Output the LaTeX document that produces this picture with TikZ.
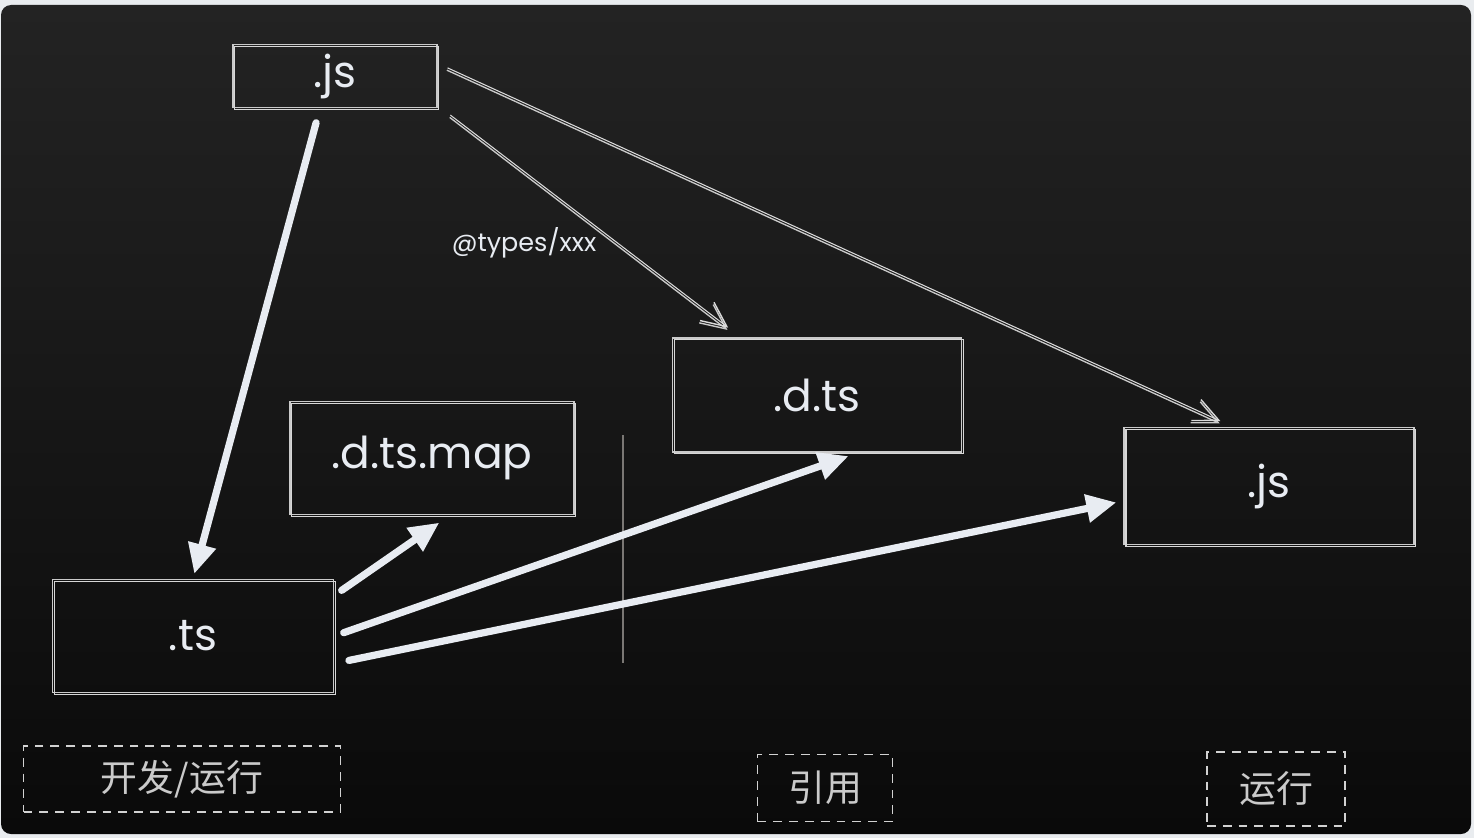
\documentclass[tikz,border=0pt]{standalone}
\usepackage{fontspec}
\setmainfont{Poppins}
\newfontfamily\cjk{Noto Sans CJK SC}
\usepackage{tikz}
\usetikzlibrary{arrows.meta,calc,positioning}
\definecolor{pagebg}{HTML}{E9ECEF}
\definecolor{boardtop}{HTML}{232323}
\definecolor{boardbot}{HTML}{0A0A0A}
\definecolor{edgegray}{HTML}{CACACA}
\definecolor{inkwhite}{HTML}{E8ECF2}
\definecolor{divider}{HTML}{7A7774}
\tikzset{
  filebox/.style   = {draw=edgegray, line width=0.9pt, text=inkwhite,
                      font=\fontsize{25}{28}\selectfont, inner sep=0pt,
                      postaction={draw=edgegray!75, line width=0.6pt,
                                  transform canvas={shift={(1.1pt,-0.9pt)}}}},
  stagebox/.style  = {draw=edgegray!85, line width=0.9pt, dash pattern=on 5pt off 4pt,
                      text=edgegray, font=\cjk\fontsize{21}{24}\selectfont, inner sep=0pt},
  bigarrow/.style  = {draw=inkwhite, line width=4.1pt, line cap=round,
                      -{Triangle[length=6mm,width=5.4mm]}},
  thinarrow/.style = {draw=edgegray, line width=0.75pt,
                      -{Straight Barb[length=5mm,width=4.6mm,line width=0.8pt]},
                      postaction={draw=edgegray!70, line width=0.6pt,
                                  transform canvas={shift={(0.4pt,1.3pt)}}}},
  tagtext/.style   = {text=inkwhite, font=\fontsize{14.5}{16}\selectfont},
}

\begin{document}
\begin{tikzpicture}[x=0.02cm,y=-0.02cm]
  \useasboundingbox (0,0) rectangle (1474,838);
  \fill[pagebg] (0,0) rectangle (1474,838);
  \shade[top color=boardtop, bottom color=boardbot, rounded corners=0.2cm]
        (1,5) rectangle (1471,834);

  % files
  \node[filebox, minimum width=4.08cm, minimum height=1.26cm] (jssrc) at (335,76) {.js};
  \node[filebox, minimum width=5.68cm, minimum height=2.26cm] (dtsmap) at (432,458) {.d.ts.map};
  \node[filebox, minimum width=5.78cm, minimum height=2.28cm] (dts) at (817,395) {.d.ts};
  \node[filebox, minimum width=5.80cm, minimum height=2.34cm] (jsout) at (1269,486) {.js};
  \node[filebox, minimum width=5.62cm, minimum height=2.26cm] (ts) at (193,636) {.ts};

  % stages
  \node[stagebox, minimum width=6.34cm, minimum height=1.32cm] (devrun) at (182,779) {开发/运行};
  \node[stagebox, minimum width=2.70cm, minimum height=1.34cm] (import) at (825,788) {引用};
  \node[stagebox, minimum width=2.76cm, minimum height=1.48cm] (run) at (1276,789) {运行};

  \node[tagtext] (typespkg) at (524,243) {@types/xxx};

  % divider
  \draw[divider, line width=1.4pt] (623,435) -- (623,663);

  % thin links from the plain js
  \draw[thinarrow, shorten <=0.2cm, shorten >=0.16cm]
       ([yshift=0.2cm]jssrc.east) -- ([xshift=-0.84cm]jsout.north);
  \draw[thinarrow, shorten <=0.3cm, shorten >=0.24cm]
       (jssrc.south east) -- ([xshift=-1.6cm]dts.north);

  % compile outputs
  \draw[bigarrow, shorten <=0.3cm, shorten >=0.1cm]
       ([xshift=-0.3cm]jssrc.south) -- (ts.north);
  \draw[bigarrow, shorten <=0.18cm, shorten >=0.26cm]
       (ts.16) -- ([xshift=0.36cm]dtsmap.south);
  \draw[bigarrow, shorten <=0.2cm, shorten >=0.2cm]
       (ts.east) -- ([xshift=0.82cm]dts.south);
  \draw[bigarrow, shorten <=0.3cm, shorten >=0.14cm]
       (ts.-11) -- ([yshift=-0.3cm]jsout.west);
\end{tikzpicture}
\end{document}
